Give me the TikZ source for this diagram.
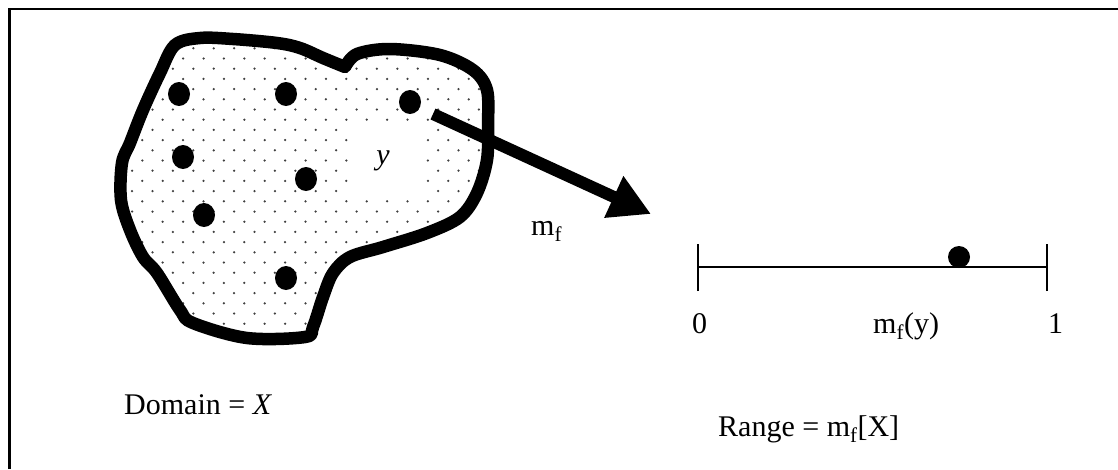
\documentclass[tikz,border=0pt]{standalone}
\usepackage{fontspec}
\setmainfont{Liberation Serif}
\usetikzlibrary{arrows.meta}
\begin{document}
\begin{tikzpicture}[x=1pt,y=-1pt,
  lbl/.style={inner sep=0pt,anchor=base west,font=\fontsize{30}{36}\selectfont},
  thin/.style={line width=2pt}]
\useasboundingbox (0,0) rectangle (1118,469);
% frame
\draw[line width=2.4pt] (9.5,469) -- (9.5,8.7) -- (1118,8.7);
% blob
\def\blob{plot[smooth,tension=0.55] coordinates {
 (345,67) (357,54)
 (390,49) (440,55) (473,70) (487,90) (488,125) (487,160) (477,193) (460,217)
 (427,233) (383,247) (350,257) (333,273) (323,297) (313,327) (305,337)
 (247,338) (193,323) (180,310) (157,273) (143,257) (130,230) (121,200)
 (122,163) (130,143) (143,110) (160,73)
 (175,45) (200,38) (233,39) (277,43) (300,48) (323,58) (345,67)} -- cycle}
\begin{scope}
  \clip \blob;
  \foreach \j in {0,...,32}{
    \foreach \i in {-5,...,20}{
      \pgfmathsetmacro\xx{193.3+20.4*\i+mod(\j,2)*10.2}
      \pgfmathsetmacro\yy{48.3+10.2*(\j-2)}
      \fill[black!75] (\xx,\yy) circle (1.25);
    }
  }
  \fill[white] (354,125) rectangle (426,195);
\end{scope}
\draw[line width=12.5pt,line join=round] \blob;
% points in domain
\foreach \p in {(179,94),(286,94),(183,157),(306,179),(204,215),(286,278),(410,102)}
  \fill \p ellipse (11 and 12);
\node[inner sep=0pt,font=\fontsize{30}{36}\selectfont\itshape] (y) at (383,161) {y};
% arrow
\coordinate (as) at (433,114);
\coordinate (ae) at (651,214);
\draw[line width=12pt,-{Triangle[width=43pt,length=41pt]}] (as) -- (ae);
\node[lbl] (mf) at (531,235) {m\textsubscript{f}};
% range line
\coordinate (l0) at (698,267);
\coordinate (l1) at (1047,267);
\draw[thin] (l0) -- (l1);
\draw[thin] ([yshift=-24]l0) -- ([yshift=23]l0);
\draw[thin] ([yshift=-24]l1) -- ([yshift=23]l1);
\fill (959,257) circle (11);
\node[lbl,anchor=base] (z) at (699.5,333) {0};
\node[lbl] (mfy) at (873,333) {m\textsubscript{f}(y)};
\node[lbl] (one) at (1048,333) {1};
\node[lbl] (dom) at (124,414) {Domain = \textit{X}};
\node[lbl] (rng) at (718,436) {Range = m\textsubscript{f}[X]};
\end{tikzpicture}
\end{document}
